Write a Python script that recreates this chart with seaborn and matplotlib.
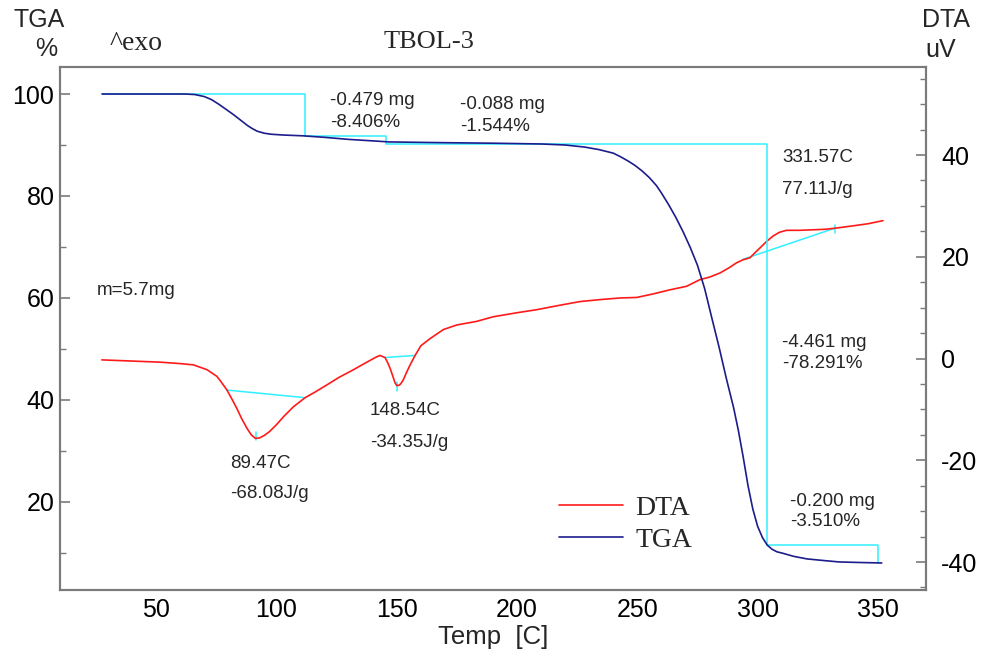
import numpy as np
import pandas as pd
import matplotlib
matplotlib.use("Agg")
import matplotlib.pyplot as plt
import seaborn as sns

# TGA curve (temperature in C, mass %)
tga_temp = [27.5, 40, 55, 62, 66, 70, 73, 76, 79, 82, 85, 88, 90, 92, 95, 98, 103, 111,
            120, 130, 147, 170, 190, 210, 220, 228, 234, 240, 243, 246, 249, 252, 255,
            258, 260, 263, 266, 269, 272, 275, 278, 281, 284, 287, 290, 292, 294, 296,
            298, 300, 302, 304, 306, 308, 310.5, 315, 320.5, 327, 334, 342, 351.6]
tga_mass = [100, 100, 100, 100, 99.9, 99.5, 98.9, 98.0, 97.0, 96.0, 94.9, 93.8, 93.2,
            92.7, 92.3, 92.1, 91.95, 91.8, 91.5, 91.1, 90.6, 90.45, 90.35, 90.2, 90.0,
            89.6, 89.1, 88.4, 87.7, 86.9, 86.0, 84.9, 83.6, 82.0, 80.6, 78.3, 75.8, 73.0,
            69.9, 66.4, 61.8, 56.0, 50.3, 44.2, 38.5, 34.0, 28.8, 23.2, 18.6, 15.2, 13.0,
            11.5, 10.7, 10.2, 9.9, 9.3, 8.8, 8.5, 8.2, 8.1, 8.0]

# DTA curve (temperature in C, uV)
dta_temp = [27.4, 40, 51.7, 60, 65.5, 71.1, 75.2, 77, 79.4, 81.5, 83.5, 85.5, 87.7, 89.5,
            91.2, 93, 95, 97, 100, 103, 107, 111.9, 116, 120.9, 126, 132, 138, 141.5, 143,
            145.1, 146.2, 147.2, 148.3, 149.3, 150.0, 150.8, 151.6, 152.7, 154, 155.5,
            157.6, 160, 163.8, 169.4, 175, 183.2, 190, 200, 208.2, 217, 226.2, 235,
            242.8, 249.7, 256.6, 263.5, 270.5, 276, 280, 284.3, 288, 291.2, 293.9, 296.8,
            298.5, 300.9, 303.7, 306.5, 309, 312, 317.5, 323, 328, 332, 340, 346, 352.1]
dta_uv = [-0.27, -0.5, -0.72, -1.0, -1.25, -2.2, -3.5, -4.6, -6.2, -8.0, -9.8, -11.8,
          -13.7, -15.0, -15.7, -15.6, -15.1, -14.4, -13.0, -11.4, -9.5, -7.7, -6.6, -5.2,
          -3.7, -2.2, -0.6, 0.3, 0.6, 0.2, -0.8, -1.9, -3.4, -4.8, -5.3, -5.3, -5.0, -4.2,
          -2.8, -1.3, 0.6, 2.5, 3.9, 5.7, 6.6, 7.3, 8.2, 9.0, 9.6, 10.4, 11.2, 11.6, 11.9,
          12.0, 12.7, 13.5, 14.2, 15.5, 16.0, 16.8, 17.8, 18.8, 19.4, 19.8, 20.6, 21.7,
          23.0, 24.1, 24.8, 25.2, 25.2, 25.3, 25.4, 25.6, 26.1, 26.5, 27.1]

# TGA step analysis lines
step_temp = [27.5, 111.9, 111.9, 145.6, 145.6, 303.8, 303.8, 350.0, 350.0]
step_mass = [100, 100, 91.8, 91.8, 90.2, 90.2, 11.6, 11.6, 8.0]

# DTA peak baselines (start/end) and peak markers
base_temp = [[79.4, 111.9], [145.1, 157.6], [293.9, 332.0]]
base_uv = [[-6.2, -7.7], [0.2, 0.6], [19.5, 25.6]]
peak_temp = [91.5, 150.0, 332.0]
peak_uv = [-15.2, -5.5, 25.4]

sns.set_style("white")
plt.rcParams["font.family"] = ["Liberation Sans", "DejaVu Sans"]
plt.rcParams["axes.unicode_minus"] = False

tga_df = pd.DataFrame({"Temp": tga_temp, "TGA": tga_mass})
dta_df = pd.DataFrame({"Temp": dta_temp, "DTA": dta_uv})

fig = plt.figure(figsize=(9.83, 6.58), dpi=100)
ax = fig.add_axes([60 / 983, 68 / 658, 866 / 983, 523 / 658])
ax2 = ax.twinx()

cyan = "#30f0ff"
ax.plot(step_temp, step_mass, color=cyan, lw=1.1, zorder=1)
for bt, bv in zip(base_temp, base_uv):
    ax2.plot(bt, bv, color=cyan, lw=1.1, zorder=1)
for pt, pv in zip(peak_temp, peak_uv):
    ax2.plot([pt, pt], [pv - 0.8, pv + 0.8], color=cyan, lw=1.1, zorder=1)

sns.lineplot(data=dta_df, x="Temp", y="DTA", ax=ax2, color="#ff1a1a", lw=1.2,
             sort=False, estimator=None, label="DTA", legend=False)
sns.lineplot(data=tga_df, x="Temp", y="TGA", ax=ax, color="#1c1c8c", lw=1.2,
             sort=False, estimator=None, label="TGA", legend=False)
ax.set_zorder(ax2.get_zorder() + 1)
ax.patch.set_visible(False)

ax.set_xlim(10, 370)
ax.set_ylim(2.7, 105.3)
ax2.set_ylim(-45.5, 57.3)
ax.set_xticks(range(50, 351, 50))
ax.set_xticks(range(10, 371, 10), minor=True)
ax.set_yticks(range(20, 101, 20))
ax.set_yticks(range(10, 101, 10), minor=True)
ax2.set_yticks(range(-40, 41, 20))
ax2.set_yticks(range(-45, 56, 5), minor=True)

spine_col = "#7a7a7a"
for a in (ax, ax2):
    for s in a.spines.values():
        s.set_color(spine_col)
        s.set_linewidth(1.5)
ax.tick_params(axis="x", which="both", direction="in", colors=spine_col,
               labelcolor="black", labelsize=18, pad=6)
ax.tick_params(axis="x", which="major", length=7, width=1.2)
ax.tick_params(axis="x", which="minor", length=4, width=1)
ax.tick_params(axis="y", which="both", direction="in", colors=spine_col,
               labelcolor="black", labelsize=18, pad=4)
ax.tick_params(axis="y", which="major", length=7, width=1.2)
ax.tick_params(axis="y", which="minor", length=4, width=1)
ax2.tick_params(axis="y", which="both", direction="in", colors=spine_col,
                labelcolor="black", labelsize=18, pad=11)
ax2.tick_params(axis="y", which="major", length=7, width=1.2)
ax2.tick_params(axis="y", which="minor", length=4, width=1)

ax.set_xlabel("Temp  [C]", fontsize=18.5, labelpad=2)
ax.set_ylabel("")
ax2.set_ylabel("")

# annotations
fs = 13.5
ann = [
    (122.3, 98.8, "-0.479 mg"), (122.3, 94.5, "-8.406%"),
    (176.3, 98.0, "-0.088 mg"), (176.3, 93.7, "-1.544%"),
    (310.1, 87.6, "331.57C"), (310.1, 81.2, "77.11J/g"),
    (310.1, 51.2, "-4.461 mg"), (310.1, 47.1, "-78.291%"),
    (313.4, 20.0, "-0.200 mg"), (313.4, 16.1, "-3.510%"),
    (80.7, 27.6, "89.47C"), (80.7, 21.6, "-68.08J/g"),
    (138.9, 38.0, "148.54C"), (138.9, 31.6, "-34.35J/g"),
    (25.5, 61.4, "m=5.7mg"),
]
for x, y, t in ann:
    ax.text(x, y, t, fontsize=fs, ha="left", va="center")

fig.text(39 / 983, 1 - 20 / 658, "TGA", fontsize=18, ha="center", va="center")
fig.text(46 / 983, 1 - 49 / 658, "%", fontsize=18, ha="center", va="center")
fig.text(946 / 983, 1 - 20 / 658, "DTA", fontsize=18, ha="center", va="center")
fig.text(941 / 983, 1 - 50 / 658, "uV", fontsize=18, ha="center", va="center")
fig.text(110 / 983, 1 - 44 / 658, "^exo", fontsize=20, ha="left", va="center",
         family="Liberation Serif")
fig.text(429 / 983, 1 - 42 / 658, "TBOL-3", fontsize=19, ha="center", va="center",
         family="Liberation Serif")

h1, l1 = ax2.get_legend_handles_labels()
h2, l2 = ax.get_legend_handles_labels()
ax.legend(h1 + h2, l1 + l2, loc="upper left", bbox_to_anchor=(548 / 983, 1 - 484 / 658),
          bbox_transform=fig.transFigure, frameon=False, prop={"family": "Liberation Serif", "size": 20},
          handlelength=2.3, handletextpad=0.45, labelspacing=0.25, borderaxespad=0)

fig.savefig("out.png", dpi=100)
